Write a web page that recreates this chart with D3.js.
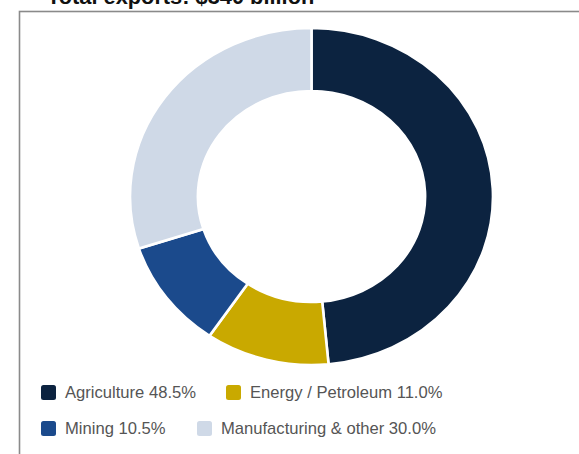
<!DOCTYPE html>
<html>
<head>
<meta charset="utf-8">
<script src="https://cdn.jsdelivr.net/npm/d3@7"></script>
<style>
  html, body { margin: 0; padding: 0; background: #fff; }
  svg { display: block; }
  text { font-family: "Liberation Sans", Arial, sans-serif; }
</style>
</head>
<body>
<svg id="chart" width="579" height="454"></svg>
<script>
// Export composition by sector
const categories = ["Agriculture", "Energy / Petroleum", "Mining", "Manufacturing & other"];
const shares = [48.5, 11.0, 10.5, 30.0];
const colors = ["#0c2340", "#c9a900", "#1b4a8c", "#cfd9e7"];
const titleText = "Total exports: $340 billion";

// legend layout: two rows of two entries
const legendOrder = [0, 1, 2, 3];
const legendPos = [
  { x: 41, y: 385 },
  { x: 226, y: 385 },
  { x: 41, y: 421 },
  { x: 197, y: 421 }
];

const svg = d3.select("#chart");

// title (runs off the top edge)
svg.append("text")
  .attr("x", 47)
  .attr("y", 4)
  .attr("font-size", 21.8)
  .attr("font-weight", "bold")
  .attr("fill", "#111")
  .text(titleText);

// panel frame
svg.append("rect")
  .attr("x", 19.5)
  .attr("y", 11.5)
  .attr("width", 600)
  .attr("height", 500)
  .attr("fill", "none")
  .attr("stroke", "#8a8a8a")
  .attr("stroke-width", 1.6);

// donut
const rOuter = 168.5, rInner = 105.5;
const pie = d3.pie().sort(null).value(d => d).startAngle(0).endAngle(2 * Math.PI);
const arc = d3.arc().innerRadius(rInner).outerRadius(rOuter);

const g = svg.append("g")
  .attr("transform", "translate(311.5,196.5) scale(1.077,1)");

g.selectAll("path")
  .data(pie(shares))
  .join("path")
  .attr("d", arc)
  .attr("fill", (d, i) => colors[i])
  .attr("stroke", "#fff")
  .attr("stroke-width", 2.6)
  .attr("vector-effect", "non-scaling-stroke");

// legend
const lg = svg.append("g");
legendOrder.forEach((i, k) => {
  const p = legendPos[k];
  lg.append("rect")
    .attr("x", p.x)
    .attr("y", p.y)
    .attr("width", 15)
    .attr("height", 15)
    .attr("rx", 2.5)
    .attr("fill", colors[i]);
  lg.append("text")
    .attr("x", p.x + 24)
    .attr("y", p.y + 13)
    .attr("font-size", 16.6)
    .attr("fill", "#555")
    .text(`${categories[i]} ${d3.format(".1f")(shares[i])}%`);
});
</script>
</body>
</html>
